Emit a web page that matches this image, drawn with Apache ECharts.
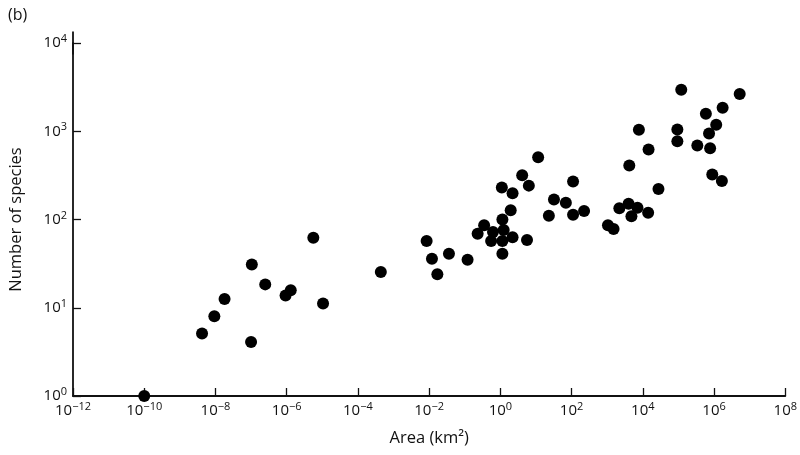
<!DOCTYPE html>
<html>
<head>
<meta charset="utf-8">
<title>species-area</title>
<script src="https://cdn.jsdelivr.net/npm/echarts@6/dist/echarts.min.js"></script>
<style>
  html, body { margin: 0; padding: 0; background: #fff; }
  #main { width: 800px; height: 455px; }
</style>
</head>
<body>
<div id="main"></div>
<script>
// 面积 (km2)
var areas = [
  1e-10, 4.2e-9, 9.3e-9, 1.8e-8, 1.05e-7, 1e-7, 2.5e-7, 9.3e-7, 1.3e-6, 5.6e-6,
  1.05e-5, 4.4e-4, 8.5e-3, 1.2e-2, 1.7e-2, 3.6e-2, 0.12, 0.23, 0.35, 0.55,
  0.62, 1.14, 1.24, 1.14, 1.14, 1.1, 1.95, 2.2, 2.2, 4.1,
  6.3, 5.6, 11.5, 23, 32, 69, 110, 110, 224, 1050,
  1510, 2190, 3980, 7080, 4790, 14100, 4170, 27500, 7760, 14500,
  120000, 93300, 93300, 339000, 589000, 1740000, 1150000, 724000, 776000, 891000,
  1660000, 5250000
];
// 物种数
var species = [
  1, 5.1, 8.0, 12.6, 31, 4.1, 18.4, 13.8, 15.8, 62,
  11.2, 25.4, 57, 36, 24, 41, 35, 69, 86, 57,
  72, 100, 76, 57, 41, 230, 127, 198, 63, 318,
  242, 58.5, 508, 110, 168, 155, 269, 113, 125, 86,
  78, 134, 151, 136, 109, 119, 408, 222, 1037, 620,
  2950, 1046, 772, 688, 1577, 1844, 1182, 942, 643, 323,
  273, 2636
];
// 刻度 (10 的指数)
var xExpTicks = [-12, -10, -8, -6, -4, -2, 0, 2, 4, 6, 8];
var yExpTicks = [0, 1, 2, 3, 4];

var points = areas.map(function (a, i) {
  return [Math.log10(a), Math.log10(species[i])];
});

var font = 'Open Sans';

// 10 的幂标签
function powLabel(v) {
  var e = v < 0 ? '\u2212' + (-v) : '' + v;
  return '{b|10}{s|' + e + '}';
}
var richPow = {
  b: { fontSize: 15, lineHeight: 19, fontFamily: font, color: '#111' },
  s: { fontSize: 11, lineHeight: 11, verticalAlign: 'top', fontFamily: font, color: '#111' }
};

var chart = echarts.init(document.getElementById('main'));
chart.setOption({
  animation: false,
  title: {
    text: '(b)',
    left: 3,
    top: 2,
    textStyle: { fontSize: 16, fontWeight: 'normal', fontFamily: font, color: '#111' }
  },
  grid: { left: 70, right: 14, top: 43, bottom: 59 },
  xAxis: {
    type: 'value',
    min: xExpTicks[0],
    max: xExpTicks[xExpTicks.length - 1],
    interval: 2,
    name: 'Area (km\u00b2)',
    nameLocation: 'middle',
    nameGap: 34,
    nameTextStyle: { fontSize: 16.5, fontFamily: font, color: '#111' },
    axisLine: { onZero: false, lineStyle: { color: '#111', width: 1.8 } },
    axisTick: { inside: true, length: 8, lineStyle: { color: '#111', width: 1.3 } },
    axisLabel: { margin: 5, formatter: powLabel, rich: richPow },
    splitLine: { show: false }
  },
  yAxis: {
    type: 'value',
    min: yExpTicks[0],
    max: yExpTicks[yExpTicks.length - 1],
    interval: 1,
    name: 'Number of species',
    nameLocation: 'middle',
    nameGap: 48,
    nameTextStyle: { fontSize: 16.5, fontFamily: font, color: '#111' },
    axisLine: {
      onZero: false,
      lineStyle: { color: '#111', width: 1.8 },
      // 轴线顶端略微伸出
      symbol: ['none', 'rect'],
      symbolSize: [1.8, 23]
    },
    axisTick: { inside: true, length: 8, lineStyle: { color: '#111', width: 1.3 } },
    axisLabel: { margin: 6, formatter: powLabel, rich: richPow },
    splitLine: { show: false }
  },
  series: [{
    type: 'scatter',
    data: points,
    symbolSize: 12,
    itemStyle: { color: '#000', opacity: 1 }
  }]
});
</script>
</body>
</html>
